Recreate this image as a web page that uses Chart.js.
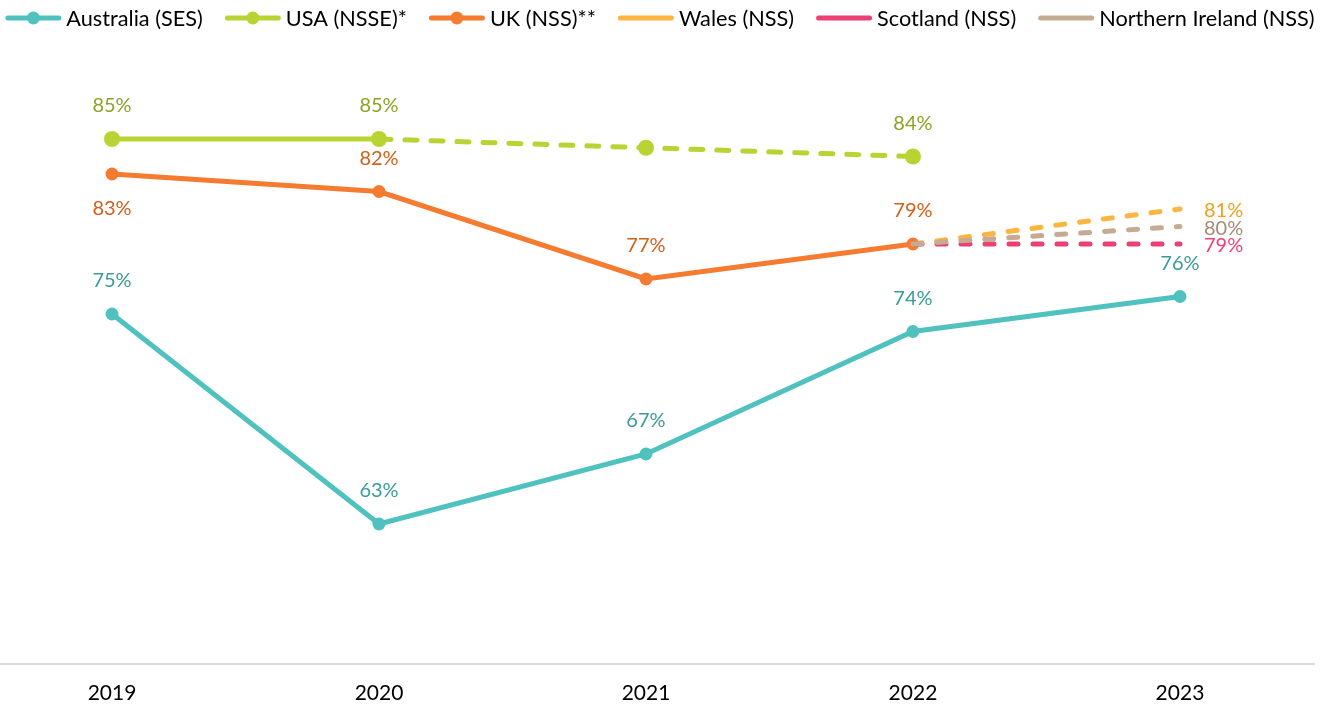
<!DOCTYPE html>
<html>
<head>
<meta charset="utf-8">
<script src="https://cdn.jsdelivr.net/npm/chart.js@4.4.0/dist/chart.umd.min.js"></script>
<style>
  html, body { margin: 0; padding: 0; background: #fff; }
  #wrap { position: relative; width: 1324px; height: 710px; }
</style>
</head>
<body>
<div id="wrap"><canvas id="chart"></canvas></div>
<script>
const years = [2019, 2020, 2021, 2022, 2023];
const australia = [75, 63, 67, 74, 76];
const usa = [85, 85, 84.5, 84, null];
const uk = [83, 82, 77, 79, null];
const wales = [null, null, null, 79, 81];
const scotland = [null, null, null, 79, 79];
const northernIreland = [null, null, null, 79, 80];

const FONT = 'Lato, "Open Sans", sans-serif';

function toPoints(vals) {
  return years.map((yr, i) => ({ x: yr, y: vals[i] }));
}

// legend row across the top: line (+ dot) then the name
const topLegend = {
  id: 'topLegend',
  afterDraw(chart) {
    const ctx = chart.ctx;
    const iconW = 56, gap = 5, spacing = 22, cy = 18;
    ctx.save();
    ctx.font = '21.7px ' + FONT;
    ctx.textBaseline = 'middle';
    ctx.textAlign = 'left';
    const items = chart.data.datasets.map(ds => ({
      ds, w: iconW + gap + ctx.measureText(ds.label).width
    }));
    const total = items.reduce((s, it) => s + it.w, 0) + spacing * (items.length - 1);
    let x = (chart.width - total) / 2 - 2;
    items.forEach(({ ds, w }) => {
      ctx.strokeStyle = ds.borderColor;
      ctx.lineWidth = 5;
      ctx.lineCap = 'round';
      ctx.setLineDash([]);
      ctx.beginPath();
      ctx.moveTo(x + 2.5, cy);
      ctx.lineTo(x + iconW - 2.5, cy);
      ctx.stroke();
      if (ds.dot) {
        ctx.fillStyle = ds.borderColor;
        ctx.beginPath();
        ctx.arc(x + iconW / 2, cy, 6.5, 0, Math.PI * 2);
        ctx.fill();
      }
      ctx.fillStyle = '#000';
      ctx.fillText(ds.label, x + iconW + gap, cy + 1);
      x += w + spacing;
    });
    ctx.restore();
  }
};

// draws the value labels next to the points
const valueLabels = {
  id: 'valueLabels',
  afterDatasetsDraw(chart) {
    const ctx = chart.ctx;
    ctx.save();
    ctx.font = '20px ' + FONT;
    ctx.textBaseline = 'middle';
    chart.data.datasets.forEach((ds, di) => {
      const meta = chart.getDatasetMeta(di);
      const pos = ds.labelPos || [];
      meta.data.forEach((pt, i) => {
        const v = ds.data[i].y;
        if (v == null || !pos[i]) return;
        const text = Math.round(v) + '%';
        ctx.fillStyle = ds.labelColor;
        if (pos[i] === 'above') {
          ctx.textAlign = 'center';
          ctx.fillText(text, pt.x, pt.y - 33);
        } else if (pos[i] === 'below') {
          ctx.textAlign = 'center';
          ctx.fillText(text, pt.x, pt.y + 35);
        } else if (pos[i] === 'right') {
          ctx.textAlign = 'left';
          ctx.fillText(text, pt.x + 24, pt.y + 2);
        }
      });
    });
    ctx.restore();
  }
};

new Chart(document.getElementById('chart'), {
  type: 'line',
  data: {
    datasets: [
      {
        label: 'Australia (SES)',
        data: toPoints(australia),
        borderColor: '#4fc1bf', backgroundColor: '#4fc1bf',
        labelColor: '#3a9c98',
        labelPos: ['above', 'above', 'above', 'above', 'above'],
        pointRadius: 6.5, dot: true, order: 3
      },
      {
        label: 'USA (NSSE)*',
        data: toPoints(usa),
        borderColor: '#b8d432', backgroundColor: '#b8d432',
        labelColor: '#8ba426',
        labelPos: ['above', 'above', null, 'above', null],
        pointRadius: 8, dot: true, order: 4,
        segment: { borderDash: c => c.p0DataIndex >= 1 ? [12, 14] : undefined }
      },
      {
        label: 'UK (NSS)**',
        data: toPoints(uk),
        borderColor: '#f47b30', backgroundColor: '#f47b30',
        labelColor: '#d0601a',
        labelPos: ['below', 'above', 'above', 'above', null],
        pointRadius: 6.5, dot: true, order: 5
      },
      {
        label: 'Wales (NSS)',
        data: toPoints(wales),
        borderColor: '#fbb540', backgroundColor: '#fbb540',
        labelColor: '#f0a020',
        labelPos: [null, null, null, null, 'right'],
        pointRadius: 0, borderDash: [9, 15], order: 2
      },
      {
        label: 'Scotland (NSS)',
        data: toPoints(scotland),
        borderColor: '#ee3f73', backgroundColor: '#ee3f73',
        labelColor: '#ee3f73',
        labelPos: [null, null, null, null, 'right'],
        pointRadius: 0, borderDash: [9, 15], order: 1
      },
      {
        label: 'Northern Ireland (NSS)',
        data: toPoints(northernIreland),
        borderColor: '#c5ab92', backgroundColor: '#c5ab92',
        labelColor: '#a38c72',
        labelPos: [null, null, null, null, 'right'],
        pointRadius: 0, borderDash: [9, 15], order: 0
      }
    ]
  },
  options: {
    responsive: true,
    maintainAspectRatio: false,
    animation: false,
    layout: { autoPadding: false, padding: { left: 0, right: 10, top: 51.5, bottom: 0 } },
    elements: {
      line: { borderWidth: 5, borderCapStyle: 'round', tension: 0 },
      point: { borderWidth: 0, hoverRadius: 7 }
    },
    scales: {
      x: {
        type: 'linear',
        min: 2018.5805,
        max: 2023.502,
        grid: { display: false },
        border: { color: '#d9d9d9', width: 2 },
        afterFit: s => { s.height = 46; },
        ticks: {
          stepSize: 1,
          includeBounds: false,
          padding: 9,
          color: '#000',
          font: { size: 21, family: FONT },
          callback: v => String(v)
        }
      },
      y: {
        display: false,
        min: 55,
        max: 90
      }
    },
    plugins: {
      tooltip: { enabled: false },
      legend: { display: false }
    }
  },
  plugins: [valueLabels, topLegend]
});
</script>
</body>
</html>
